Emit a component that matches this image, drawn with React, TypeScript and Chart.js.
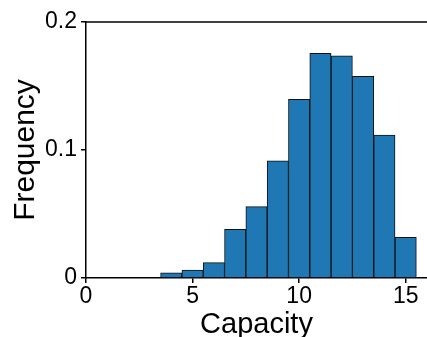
import React, { useEffect, useRef } from "react";
import { Chart, registerables } from "chart.js";

Chart.register(...registerables);

const binCenters = [4, 5, 6, 7, 8, 9, 10, 11, 12, 13, 14, 15];
const frequencies = [0.004, 0.0062, 0.012, 0.038, 0.0557, 0.0915, 0.1396, 0.1755, 0.1735, 0.1575, 0.1117, 0.0318];
const xTicks = [0, 5, 10, 15];
const yTicks = [0, 0.1, 0.2];
const yTickLabels = ["0", "0.1", "0.2"];

const topSpine = {
  id: "topSpine",
  afterDraw(chart: any) {
    const { ctx, chartArea } = chart;
    ctx.save();
    ctx.strokeStyle = "#000";
    ctx.lineWidth = 1.5;
    ctx.beginPath();
    ctx.moveTo(chartArea.left, chartArea.top);
    ctx.lineTo(chartArea.right + 2, chartArea.top);
    ctx.stroke();
    ctx.restore();
  },
};

export default function App() {
  const ref = useRef<HTMLCanvasElement>(null);
  useEffect(() => {
    if (!ref.current) return;
    const font = "'Liberation Sans', Arial, sans-serif";
    const chart = new Chart(ref.current, {
      type: "bar",
      data: {
        datasets: [
          {
            data: binCenters.map((x, i) => ({ x, y: frequencies[i] })),
            backgroundColor: "#1f77b4",
            borderColor: "#111",
            borderWidth: 1,
            barPercentage: 1,
            categoryPercentage: 1,
          },
        ],
      },
      options: {
        animation: false,
        responsive: false,
        maintainAspectRatio: false,
        layout: { padding: { top: 22, right: 0, left: 0, bottom: 0 } },
        plugins: { legend: { display: false }, tooltip: { enabled: false } },
        scales: {
          x: {
            type: "linear",
            min: 0,
            max: 16,
            offset: false,
            afterFit: (s: any) => { s.height = 59; },
            afterBuildTicks: (s: any) => { s.ticks = xTicks.map((v) => ({ value: v })); },
            ticks: { font: { size: 23, family: font }, color: "#000", padding: 0, maxRotation: 0 },
            grid: { display: true, offset: false, drawOnChartArea: false, drawTicks: true, tickLength: 5, color: "#000", lineWidth: 1.5 },
            border: { display: true, color: "#000", width: 1.5 },
            title: { display: true, text: "Capacity", font: { size: 29, family: font, lineHeight: 1 }, color: "#000", padding: { top: 0, bottom: -2 } },
          },
          y: {
            type: "linear",
            min: 0,
            max: 0.2,
            afterFit: (s: any) => { s.width = 86; },
            afterBuildTicks: (s: any) => { s.ticks = yTicks.map((v) => ({ value: v })); },
            ticks: {
              font: { size: 23, family: font },
              color: "#000",
              padding: 4,
              callback: (v: any) => {
                const i = yTicks.findIndex((t) => Math.abs(t - Number(v)) < 1e-9);
                return i >= 0 ? yTickLabels[i] : "";
              },
            },
            grid: { display: true, offset: false, drawOnChartArea: false, drawTicks: true, tickLength: 5, color: "#000", lineWidth: 1.5 },
            border: { display: true, color: "#000", width: 1.5 },
            title: { display: true, text: "Frequency", font: { size: 30, family: font }, color: "#000", padding: { top: 8, bottom: 0 } },
          },
        },
      },
      plugins: [topSpine],
    });
    return () => chart.destroy();
  }, []);
  return (
    <div style={{ position: "fixed", left: 0, top: 0, width: 427, height: 337, background: "#fff" }}>
      <canvas ref={ref} width={427} height={337} style={{ display: "block" }} />
    </div>
  );
}
